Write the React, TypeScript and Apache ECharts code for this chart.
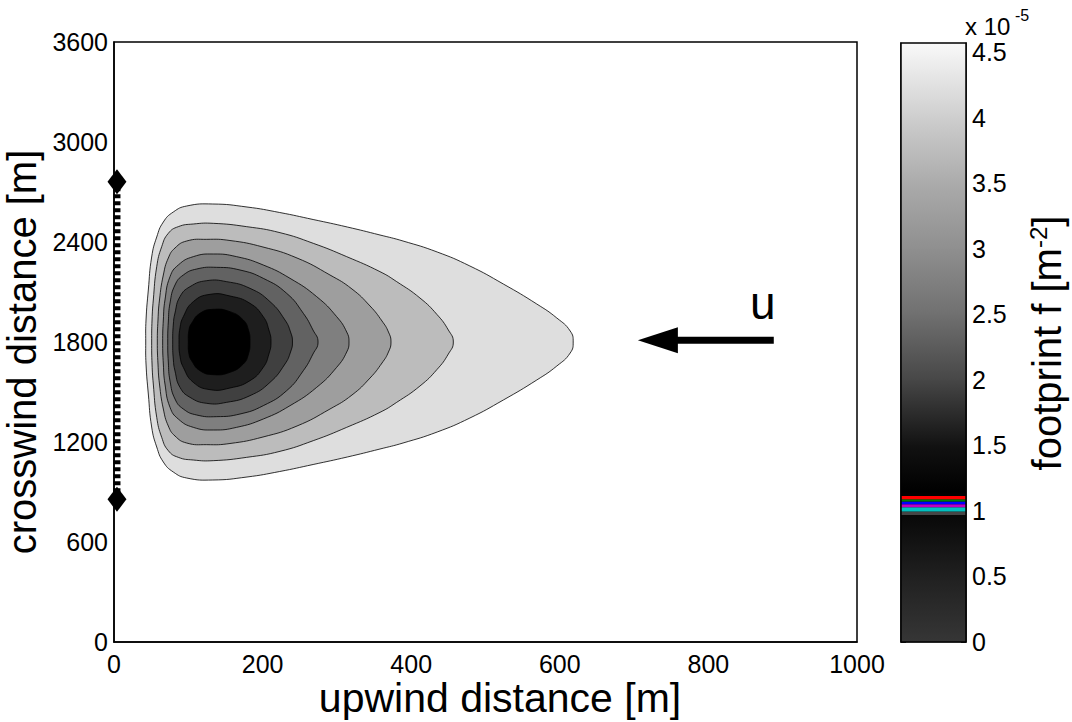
import React, { useEffect, useRef } from "react";
import * as echarts from "echarts";

const FONT = '"Liberation Sans", Arial, Helvetica, sans-serif';

// axes
const xMin = 0, xMax = 1000, xStep = 200;
const yMin = 0, yMax = 3600, yStep = 600;
const cbMin = 0, cbMax = 4.57, cbStep = 0.5;
const CENTER_Y = 1800; // crosswind centre line of the footprint

// contour outlines: upper halves [upwind m, crosswind m]; lower halves mirror about CENTER_Y
const contour1 = [[42.7,1800],[43.1,1932],[46.2,2112],[50.7,2310],[57.5,2430],[66.4,2520],[79.8,2580],[97.8,2616],[133,2628],[179,2610],[223,2577],[268,2535],[314,2490],[358,2442],[389,2406],[435,2340],[479,2256],[524,2148],[569,2028],[596,1944],[614,1866],[618,1800]];
const contour2 = [[50.7,1800],[51.2,1932],[52.9,2052],[57.5,2252],[64.2,2372],[73.1,2452],[86.5,2492],[106.7,2508],[133.6,2512],[178.6,2492],[223.4,2456],[268.2,2392],[313.2,2312],[358,2222],[380.5,2162],[411.8,2064],[434.7,1965],[450,1872],[456.7,1800]];
const contour3 = [[58.3,1800],[59.2,1932],[61.2,2052],[66.4,2202],[73.1,2304],[82.1,2364],[97.8,2406],[124.8,2416],[156.1,2409],[200.5,2370],[246.3,2304],[290.7,2202],[320.3,2118],[344.6,2016],[360.7,1926],[369.4,1860],[372.8,1800]];
const contour4 = [[65.5,1800],[66.4,1932],[68.6,2052],[75.4,2192],[86.5,2262],[106.7,2312],[133.6,2328],[165.1,2312],[200.9,2262],[236.9,2182],[272.8,2072],[299.7,1952],[313.2,1860],[316.3,1800]];
const contour5 = [[72.3,1800],[73.1,1920],[75.4,2034],[82.1,2142],[93.3,2202],[111.3,2238],[138.2,2248],[169.6,2232],[200.9,2182],[232.4,2092],[254.8,1972],[267.8,1872],[274.6,1800]];
const contour6 = [[79.0,1800],[79.8,1902],[82.1,1974],[88.8,2072],[102.3,2132],[124.8,2168],[151.7,2162],[183.0,2122],[210.0,2042],[230.1,1932],[237.6,1860],[240.2,1800]];
const contour7 = [[87.5,1800],[88.8,1884],[93.3,1952],[106.7,2042],[129.2,2086],[156.1,2076],[183.0,2032],[200.9,1952],[208.5,1872],[211.3,1800]];
const contour8 = [[100,1800],[100.9,1872],[104.4,1912],[115.7,1972],[133.6,1996],[156.1,1982],[174,1932],[181,1872],[183,1800]];
const contourFills = ["#dedede", "#bcbcbc", "#9e9e9e", "#7f7f7f", "#626262", "#404040", "#1e1e1e", "#000000"];

// measurement line (sensor path) with end markers
const sensorLine = [[4, 856], [4, 2762]];

// wind arrow
const arrowTail = [888, 1810];
const arrowHead = [732, 1810];

// colorbar (x 10^-5): gradient stops and colored stripes
const cbStops: [number, string][] = [
  [0, "#363636"], [0.5, "#202020"], [0.969, "#080808"], [1.15, "#000000"], [1.5, "#121212"],
  [2.0, "#474747"], [2.5, "#707070"], [3.0, "#8f8f8f"], [3.5, "#ababab"], [4.0, "#cecece"], [4.57, "#f9f9f9"],
];
const cbStripes: [number, number, string][] = [
  [0.969, 0.995, "#454545"], [0.995, 1.028, "#00bfbf"], [1.028, 1.051, "#bf00bf"],
  [1.051, 1.071, "#0000ff"], [1.071, 1.089, "#008000"], [1.089, 1.114, "#ff0000"],
];

export default function App() {
  const ref = useRef<HTMLDivElement>(null);
  useEffect(() => {
    const chart = echarts.init(ref.current!, null, { renderer: "svg" });
    const contours = [contour1, contour2, contour3, contour4, contour5, contour6, contour7, contour8];
    const polys = contours.map((up) => {
      const low = up.slice(1, -1).reverse().map(([x, y]) => [x, 2 * CENTER_Y - y]);
      return up.concat(low);
    });
    const axisLbl = { color: "#000", fontSize: 25, fontFamily: FONT, formatter: (v: number) => String(v) };
    const option: any = {
      animation: false,
      backgroundColor: "#fff",
      grid: [
        { left: 114, top: 42, width: 743, height: 600, show: true, borderColor: "#000", borderWidth: 1.5, backgroundColor: "#fff" },
        { left: 901, top: 43, width: 65, height: 599, show: false },
      ],
      xAxis: [
        { gridIndex: 0, type: "value", min: xMin, max: xMax, interval: xStep,
          axisLine: { show: true, lineStyle: { color: "#000", width: 1.5 } }, axisTick: { show: false },
          splitLine: { show: false }, axisLabel: { ...axisLbl, margin: 9 } },
        { gridIndex: 1, type: "value", min: 0, max: 1, show: false },
      ],
      yAxis: [
        { gridIndex: 0, type: "value", min: yMin, max: yMax, interval: yStep,
          axisLine: { show: true, lineStyle: { color: "#000", width: 1.5 } }, axisTick: { show: false },
          splitLine: { show: false }, axisLabel: { ...axisLbl, margin: 6 } },
        { gridIndex: 1, type: "value", min: cbMin, max: cbMax, interval: cbStep, position: "left",
          axisLine: { show: true, lineStyle: { color: "#000", width: 1.5 } },
          axisTick: { show: true, inside: true, length: 5, lineStyle: { color: "#000" } },
          axisLabel: { show: false }, splitLine: { show: false } },
        { gridIndex: 1, type: "value", min: cbMin, max: cbMax, interval: cbStep, position: "right",
          axisLine: { show: true, lineStyle: { color: "#000", width: 1.5 } },
          axisTick: { show: true, inside: true, length: 5, lineStyle: { color: "#000" } },
          axisLabel: { ...axisLbl, margin: 6,
            formatter: (v: number) => (Math.abs(v / cbStep - Math.round(v / cbStep)) < 1e-6 ? String(v) : "") },
          splitLine: { show: false } },
      ],
      series: [
        {
          type: "custom", xAxisIndex: 0, yAxisIndex: 0, silent: true, z: 2,
          data: polys.map((_, i) => [i]),
          renderItem: (params: any, api: any) => {
            const i = params.dataIndex;
            const pts = polys[i].map((p) => api.coord(p));
            return { type: "polygon", shape: { points: pts, smooth: 0.5 },
              style: { fill: contourFills[i], stroke: "#000", lineWidth: 0.8 } };
          },
        },
        {
          type: "line", xAxisIndex: 0, yAxisIndex: 0, silent: true, z: 4,
          data: sensorLine, symbol: "diamond", symbolSize: [19, 25], showSymbol: true,
          itemStyle: { color: "#000" }, lineStyle: { color: "#000", width: 7, type: [4, 3] },
        },
        {
          type: "line", xAxisIndex: 0, yAxisIndex: 0, silent: true, z: 4,
          data: [
            { value: arrowTail, symbol: "none" },
            { value: arrowHead, symbol: "triangle", symbolSize: [26, 40], symbolRotate: 90 },
          ],
          itemStyle: { color: "#000" }, lineStyle: { color: "#000", width: 7 },
        },
        {
          type: "custom", xAxisIndex: 1, yAxisIndex: 1, silent: true, z: 1,
          data: cbStops.slice(0, -1).map((_, i) => [i]),
          renderItem: (params: any, api: any) => {
            const i = params.dataIndex;
            const [v0, c0] = cbStops[i];
            const [v1, c1] = cbStops[i + 1];
            const p0 = api.coord([0, v0]);
            const p1 = api.coord([1, v1]);
            return { type: "rect",
              shape: { x: p0[0], y: p1[1] - 0.5, width: p1[0] - p0[0], height: p0[1] - p1[1] + 1 },
              style: { fill: new echarts.graphic.LinearGradient(0, 1, 0, 0, [{ offset: 0, color: c0 }, { offset: 1, color: c1 }]) } };
          },
        },
        {
          type: "custom", xAxisIndex: 1, yAxisIndex: 1, silent: true, z: 1,
          data: cbStripes.map((_, i) => [i]),
          renderItem: (params: any, api: any) => {
            const [v0, v1, c] = cbStripes[params.dataIndex];
            const p0 = api.coord([0, v0]);
            const p1 = api.coord([1, v1]);
            return { type: "rect", shape: { x: p0[0], y: p1[1], width: p1[0] - p0[0], height: p0[1] - p1[1] }, style: { fill: c } };
          },
        },
      ],
      graphic: [
        { type: "rect", silent: true, z: 10, shape: { x: 901, y: 43, width: 65, height: 599 },
          style: { fill: "none", stroke: "#000", lineWidth: 1.5 } },
        { type: "text", silent: true, x: 500, y: 698,
          style: { text: "upwind distance [m]", font: `41px ${FONT}`, fill: "#000", textAlign: "center", align: "center", textVerticalAlign: "middle", verticalAlign: "middle" } },
        { type: "text", silent: true, x: 22, y: 352, rotation: Math.PI / 2,
          style: { text: "crosswind distance [m]", font: `40px ${FONT}`, fill: "#000", textAlign: "center", align: "center", textVerticalAlign: "middle", verticalAlign: "middle" } },
        { type: "text", silent: true, x: 1047, y: 343, rotation: Math.PI / 2,
          style: { text: "footprint f [m{sup|-2}]", font: `40px ${FONT}`, fill: "#000", textAlign: "center", align: "center", textVerticalAlign: "middle", verticalAlign: "middle",
            rich: { sup: { fontSize: 24, fontFamily: FONT, fill: "#000", color: "#000", padding: [0, 0, 18, 0] } } } },
        { type: "text", silent: true, x: 965, y: 26,
          style: { text: "x 10", font: `24px ${FONT}`, fill: "#000", textAlign: "left", align: "left", textVerticalAlign: "middle", verticalAlign: "middle" } },
        { type: "text", silent: true, x: 1015, y: 15,
          style: { text: "-5", font: `16px ${FONT}`, fill: "#000", textAlign: "left", align: "left", textVerticalAlign: "middle", verticalAlign: "middle" } },
        { type: "text", silent: true, x: 750, y: 303,
          style: { text: "u", font: `46px ${FONT}`, fill: "#000", textAlign: "left", align: "left", textVerticalAlign: "middle", verticalAlign: "middle" } },
      ],
    };
    chart.setOption(option);
    return () => chart.dispose();
  }, []);
  return <div ref={ref} style={{ position: "fixed", left: 0, top: 0, width: 1072, height: 722, background: "#fff" }} />;
}
